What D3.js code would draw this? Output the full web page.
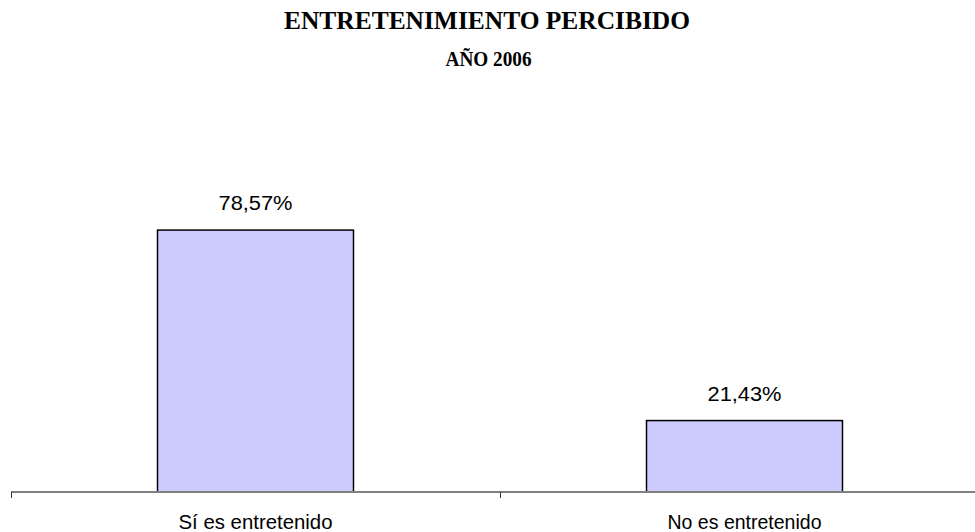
<!DOCTYPE html>
<html><head><meta charset="utf-8">
<script src="https://cdn.jsdelivr.net/npm/d3@7"></script>
<style>body{margin:0;background:#fff}svg{display:block}</style>
</head><body>
<script>
const categories = ["Sí es entretenido", "No es entretenido"];
const values = [78.57, 21.43];
const valueLabels = ["78,57%", "21,43%"];
const title = "ENTRETENIMIENTO PERCIBIDO";
const subtitle = "AÑO 2006";

const W = 975, H = 532;
const svg = d3.select("body").append("svg").attr("width", W).attr("height", H);

const x = d3.scaleBand().domain(categories).range([11, 989]).paddingInner(0).paddingOuter(0);
const y = d3.scaleLinear().domain([0, 90]).range([492, 192]);
const barW = 196;

svg.append("text").attr("x", 487).attr("y", 28.5).attr("text-anchor", "middle")
  .attr("font-family", "Liberation Serif, Times New Roman, serif").attr("font-weight", "bold")
  .attr("font-size", 26).attr("textLength", 406).attr("lengthAdjust", "spacingAndGlyphs")
  .attr("fill", "#000").text(title);
svg.append("text").attr("x", 488.5).attr("y", 65.5).attr("text-anchor", "middle")
  .attr("font-family", "Liberation Serif, Times New Roman, serif").attr("font-weight", "bold")
  .attr("font-size", 21).attr("textLength", 86).attr("lengthAdjust", "spacingAndGlyphs")
  .attr("fill", "#000").text(subtitle);

svg.selectAll("rect.bar").data(values).enter().append("rect").attr("class", "bar")
  .attr("x", (d, i) => x(categories[i]) + x.bandwidth() / 2 - barW / 2)
  .attr("y", d => y(d))
  .attr("width", barW)
  .attr("height", d => y(0) - y(d))
  .attr("fill", "#CCCCFF").attr("stroke", "#000").attr("stroke-width", 1.5);

svg.selectAll("text.val").data(values).enter().append("text").attr("class", "val")
  .attr("x", (d, i) => x(categories[i]) + x.bandwidth() / 2)
  .attr("y", d => y(d) - 20)
  .attr("text-anchor", "middle")
  .attr("font-family", "Liberation Sans, Arial, sans-serif").attr("font-size", 20)
  .attr("textLength", 74).attr("lengthAdjust", "spacingAndGlyphs").attr("fill", "#000")
  .text((d, i) => valueLabels[i]);

// axis
const g = svg.append("g");
g.append("line").attr("x1", 11).attr("x2", 989).attr("y1", y(0)).attr("y2", y(0))
  .attr("stroke", "#808080").attr("stroke-width", 2);
const tickXs = [11, x(categories[1]), 989];
g.selectAll("line.tick").data(tickXs).enter().append("line").attr("class", "tick")
  .attr("x1", d => d + 0.5).attr("x2", d => d + 0.5).attr("y1", y(0)).attr("y2", y(0) + 6)
  .attr("stroke", "#333").attr("stroke-width", 1);

svg.selectAll("text.cat").data(categories).enter().append("text").attr("class", "cat")
  .attr("x", d => x(d) + x.bandwidth() / 2)
  .attr("y", 528.5)
  .attr("text-anchor", "middle")
  .attr("font-family", "Liberation Sans, Arial, sans-serif").attr("font-size", 21)
  .attr("textLength", 154).attr("lengthAdjust", "spacingAndGlyphs").attr("fill", "#000")
  .text(d => d);
</script>
</body></html>
